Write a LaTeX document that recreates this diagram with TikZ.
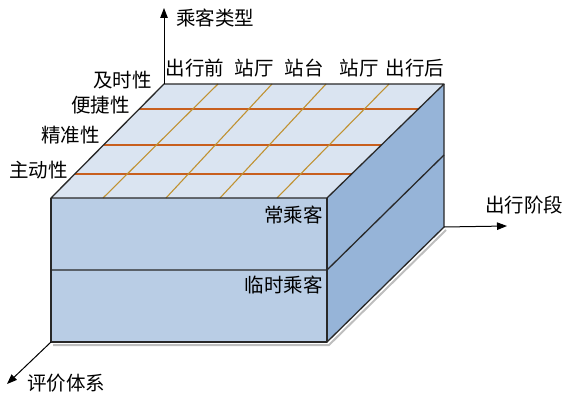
\documentclass[tikz,border=0pt]{standalone}
\usepackage{fontspec}
\newfontfamily\cjk{Noto Sans CJK SC}
\usetikzlibrary{arrows.meta,calc}
\definecolor{topc}{RGB}{218,228,241}
\definecolor{frontc}{RGB}{185,205,229}
\definecolor{sidec}{RGB}{150,180,216}
\definecolor{edgec}{RGB}{40,40,40}
\definecolor{rowc}{RGB}{200,95,30}
\definecolor{colc}{RGB}{192,146,50}
\definecolor{shadowc}{RGB}{190,190,190}
\begin{document}
\begin{tikzpicture}[x=1pt,y=-1pt,
  edge/.style={draw=edgec,line width=1.3pt,line join=round},
  rowline/.style={draw=rowc,line width=1.2pt},
  colline/.style={draw=colc,line width=1.1pt},
  axis/.style={draw=black,line width=1pt,-{Triangle[length=10pt,width=7.5pt]}},
  lab/.style={font=\cjk\fontsize{19.5}{21}\selectfont,inner sep=0pt}
]
\useasboundingbox (0,0) rectangle (564,396);
% corners
\coordinate (FL) at (51,198);
\coordinate (BL) at (164,84);
\coordinate (BR) at (444,84);
\coordinate (FR) at (327,198);
\coordinate (FLb) at (51,342);
\coordinate (FRb) at (327,342);
\coordinate (BRb) at (444,227);
\coordinate (FLm) at (51,270);
\coordinate (FRm) at (327,270);
\coordinate (BRm) at (444,155);
% shadow
\draw[shadowc,line width=2pt] (53,345) -- (329,345) -- (446,230);
% faces
\fill[frontc] (FL) -- (FR) -- (FRb) -- (FLb) -- cycle;
\fill[sidec] (FR) -- (BR) -- (BRb) -- (FRb) -- cycle;
\fill[topc] (FL) -- (BL) -- (BR) -- (FR) -- cycle;
% grid rows
\foreach \t in {0.78,0.465,0.21}
  \draw[rowline] ($(FL)!\t!(BL)$) -- ($(FR)!\t!(BR)$);
% grid columns
\foreach \a/\b in {103/218,166/272,220/326,277/389}
  \draw[colline] (\a,198) -- (\b,84);
% edges
\draw[edge] (FL) -- (BL) -- (BR) -- (FR) -- cycle;
\draw[edge] (FL) -- (FLb) -- (FRb) -- (FR);
\draw[edge] (FRb) -- (BRb) -- (BR);
\draw[edge] (FLm) -- (FRm) -- (BRm);
% axes
\coordinate (ytip) at (164,8);
\coordinate (xtip) at (507,226);
\coordinate (ztip) at (7,384);
\draw[axis] (BL) -- (ytip);
\draw[axis] (BRb) -- (xtip);
\draw[axis] (FLb) -- (ztip);
% labels
\node[lab,anchor=west] (ylab) at (176,18) {乘客类型};
\node[lab] (xlab) at (524,205) {出行阶段};
\node[lab] (zlab) at (66,383) {评价体系};
\node[lab] (c1) at (195,68) {出行前};
\node[lab] (c2) at (254,68) {站厅};
\node[lab] (c3) at (304,68) {站台};
\node[lab] (c4) at (359,68) {站厅};
\node[lab] (c5) at (415,68) {出行后};
\node[lab,anchor=east] (r1) at (152,80) {及时性};
\node[lab,anchor=east] (r2) at (130,105) {便捷性};
\node[lab,anchor=east] (r3) at (100,135) {精准性};
\node[lab,anchor=east] (r4) at (68,170) {主动性};
\node[lab,anchor=east] (t1) at (323,215) {常乘客};
\node[lab,anchor=east] (t2) at (323,285) {临时乘客};
\end{tikzpicture}
\end{document}
